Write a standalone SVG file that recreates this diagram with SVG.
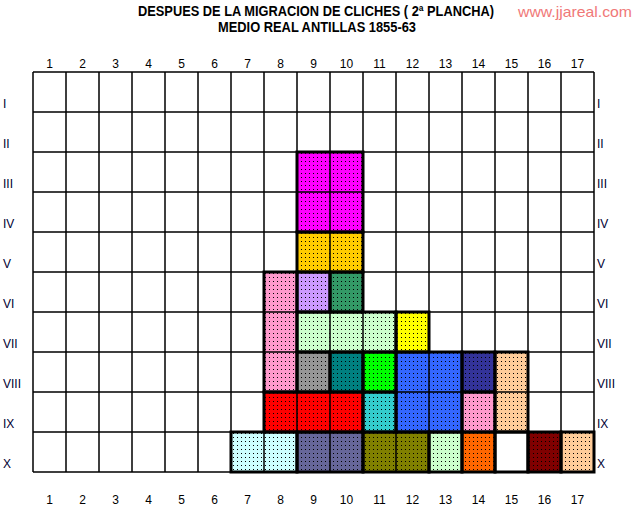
<svg xmlns="http://www.w3.org/2000/svg" width="633" height="509" viewBox="0 0 633 509">
<style>
.t{font-family:"Liberation Sans Narrow","Liberation Sans",Arial,sans-serif;font-weight:bold;font-size:14px;fill:#000;text-anchor:middle}
.n{font-family:"Liberation Sans Narrow","Liberation Sans",Arial,sans-serif;font-size:12px;fill:#000;text-anchor:middle}
.r{font-family:"Liberation Sans",Arial,sans-serif;font-size:12px;fill:#000033}
.g{fill:none;stroke:#000;stroke-width:1.5}
.k{fill:none;stroke:#000;stroke-width:3}
.d{fill:url(#dots)}
</style>
<defs>
<pattern id="dots" patternUnits="userSpaceOnUse" width="4" height="4" x="0" y="0">
<rect x="1" y="1" width="1" height="1" fill="#000"/>
</pattern>
</defs>
<rect width="633" height="509" fill="#fff"/>
<g id="title">
<text class="t" x="316" y="16" textLength="356" lengthAdjust="spacingAndGlyphs">DESPUES DE LA MIGRACION DE CLICHES ( 2ª PLANCHA)</text>
<text class="t" x="317" y="32" textLength="198" lengthAdjust="spacingAndGlyphs">MEDIO REAL ANTILLAS 1855-63</text>
<text x="575" y="17" font-family="Liberation Sans,Arial,sans-serif" font-size="15" fill="#F07878" text-anchor="middle" textLength="114" lengthAdjust="spacingAndGlyphs">www.jjareal.com</text>
</g>
<g id="cells">
<rect x="297" y="152" width="66" height="80" fill="#FF00FF"/>
<rect x="297" y="232" width="66" height="40" fill="#FFCC00"/>
<rect x="264" y="272" width="33" height="120" fill="#FF99CC"/>
<rect x="297" y="272" width="33" height="40" fill="#CC99FF"/>
<rect x="330" y="272" width="33" height="40" fill="#339966"/>
<rect x="297" y="312" width="99" height="40" fill="#CCFFCC"/>
<rect x="396" y="312" width="33" height="40" fill="#FFFF00"/>
<rect x="297" y="352" width="33" height="40" fill="#969696"/>
<rect x="330" y="352" width="33" height="40" fill="#008080"/>
<rect x="363" y="352" width="33" height="40" fill="#00FF00"/>
<rect x="396" y="352" width="66" height="80" fill="#3366FF"/>
<rect x="462" y="352" width="33" height="40" fill="#333399"/>
<rect x="495" y="352" width="33" height="80" fill="#FFCC99"/>
<rect x="264" y="392" width="99" height="40" fill="#FF0000"/>
<rect x="363" y="392" width="33" height="40" fill="#33CCCC"/>
<rect x="462" y="392" width="33" height="40" fill="#FF99CC"/>
<rect x="231" y="432" width="66" height="40" fill="#CCFFFF"/>
<rect x="297" y="432" width="66" height="40" fill="#666699"/>
<rect x="363" y="432" width="66" height="40" fill="#808000"/>
<rect x="429" y="432" width="33" height="40" fill="#CCFFCC"/>
<rect x="462" y="432" width="33" height="40" fill="#FF6600"/>
<rect x="528" y="432" width="33" height="40" fill="#800000"/>
<rect x="561" y="432" width="33" height="40" fill="#FFCC99"/>
</g>
<g id="dotted">
<rect class="d" x="297" y="152" width="66" height="320"/>
<rect class="d" x="264" y="272" width="33" height="200"/>
<rect class="d" x="363" y="312" width="66" height="160"/>
<rect class="d" x="429" y="352" width="99" height="80"/>
<rect class="d" x="231" y="432" width="33" height="40"/>
<rect class="d" x="429" y="432" width="66" height="40"/>
<rect class="d" x="528" y="432" width="66" height="40"/>
</g>
<g id="grid">
<path class="g" d="M33 72V472M66 72V472M99 72V472M132 72V472M165 72V472M198 72V472M231 72V472M264 72V472M297 72V472M330 72V472M363 72V472M396 72V472M429 72V472M462 72V472M495 72V472M528 72V472M561 72V472M594 72V472M33 72H594M33 112H594M33 152H594M33 192H594M33 232H594M33 272H594M33 312H594M33 352H594M33 392H594M33 432H594M33 472H594"/>
</g>
<g id="outlines">
<rect class="k" x="297" y="152" width="66" height="80"/>
<rect class="k" x="297" y="232" width="66" height="40"/>
<rect class="k" x="264" y="272" width="33" height="120"/>
<rect class="k" x="297" y="272" width="33" height="40"/>
<rect class="k" x="330" y="272" width="33" height="40"/>
<rect class="k" x="297" y="312" width="99" height="40"/>
<rect class="k" x="396" y="312" width="33" height="40"/>
<rect class="k" x="297" y="352" width="33" height="40"/>
<rect class="k" x="330" y="352" width="33" height="40"/>
<rect class="k" x="363" y="352" width="33" height="40"/>
<rect class="k" x="396" y="352" width="66" height="80"/>
<rect class="k" x="462" y="352" width="33" height="40"/>
<rect class="k" x="495" y="352" width="33" height="80"/>
<rect class="k" x="264" y="392" width="99" height="40"/>
<rect class="k" x="363" y="392" width="33" height="40"/>
<rect class="k" x="462" y="392" width="33" height="40"/>
<rect class="k" x="231" y="432" width="66" height="40"/>
<rect class="k" x="297" y="432" width="66" height="40"/>
<rect class="k" x="363" y="432" width="66" height="40"/>
<rect class="k" x="429" y="432" width="33" height="40"/>
<rect class="k" x="462" y="432" width="33" height="40"/>
<rect class="k" x="495" y="432" width="33" height="40"/>
<rect class="k" x="528" y="432" width="33" height="40"/>
<rect class="k" x="561" y="432" width="33" height="40"/>
</g>
<g id="colnums-top">
<text class="n" x="49.5" y="68">1</text><text class="n" x="82.5" y="68">2</text><text class="n" x="115.5" y="68">3</text><text class="n" x="148.5" y="68">4</text><text class="n" x="181.5" y="68">5</text><text class="n" x="214.5" y="68">6</text><text class="n" x="247.5" y="68">7</text><text class="n" x="280.5" y="68">8</text><text class="n" x="313.5" y="68">9</text><text class="n" x="346.5" y="68">10</text><text class="n" x="379.5" y="68">11</text><text class="n" x="412.5" y="68">12</text><text class="n" x="445.5" y="68">13</text><text class="n" x="478.5" y="68">14</text><text class="n" x="511.5" y="68">15</text><text class="n" x="544.5" y="68">16</text><text class="n" x="577.5" y="68">17</text>
</g>
<g id="colnums-bottom">
<text class="n" x="49.5" y="504">1</text><text class="n" x="82.5" y="504">2</text><text class="n" x="115.5" y="504">3</text><text class="n" x="148.5" y="504">4</text><text class="n" x="181.5" y="504">5</text><text class="n" x="214.5" y="504">6</text><text class="n" x="247.5" y="504">7</text><text class="n" x="280.5" y="504">8</text><text class="n" x="313.5" y="504">9</text><text class="n" x="346.5" y="504">10</text><text class="n" x="379.5" y="504">11</text><text class="n" x="412.5" y="504">12</text><text class="n" x="445.5" y="504">13</text><text class="n" x="478.5" y="504">14</text><text class="n" x="511.5" y="504">15</text><text class="n" x="544.5" y="504">16</text><text class="n" x="577.5" y="504">17</text>
</g>
<g id="rownums-left">
<text class="r" x="3" y="108">I</text><text class="r" x="3" y="148">II</text><text class="r" x="3" y="188">III</text><text class="r" x="3" y="228">IV</text><text class="r" x="3" y="268">V</text><text class="r" x="3" y="308">VI</text><text class="r" x="3" y="348">VII</text><text class="r" x="3" y="388">VIII</text><text class="r" x="3" y="428">IX</text><text class="r" x="3" y="468">X</text>
</g>
<g id="rownums-right">
<text class="r" x="597" y="108">I</text><text class="r" x="597" y="148">II</text><text class="r" x="597" y="188">III</text><text class="r" x="597" y="228">IV</text><text class="r" x="597" y="268">V</text><text class="r" x="597" y="308">VI</text><text class="r" x="597" y="348">VII</text><text class="r" x="597" y="388">VIII</text><text class="r" x="597" y="428">IX</text><text class="r" x="597" y="468">X</text>
</g>
</svg>
